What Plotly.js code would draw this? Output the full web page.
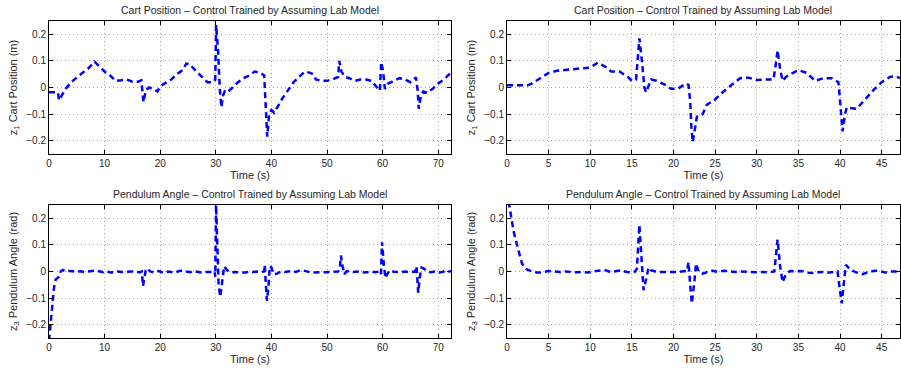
<!DOCTYPE html>
<html>
<head>
<meta charset="utf-8">
<script src="https://cdn.plot.ly/plotly-3.0.1.min.js"></script>
<style>html,body{margin:0;padding:0;background:#fff}#chart{width:901px;height:368px}</style>
</head>
<body>
<div id="chart"></div>
<script>
// ---- data: [time (s), value] ----
const cartRun1 = [[0,-0.018],[1.6,-0.018],[1.8,-0.048],[2.3,-0.03],[3,-0.005],[4,0.02],[5,0.038],[6,0.055],[7,0.07],[8.2,0.097],[9,0.08],[10,0.06],[11,0.045],[12,0.025],[13,0.027],[14,0.03],[15,0.022],[16,0.022],[16.6,0.027],[16.8,-0.01],[17,-0.055],[17.4,-0.01],[18,0.0],[19,-0.008],[19.5,-0.015],[20,0.005],[21,0.018],[22,0.03],[23,0.05],[24,0.065],[24.7,0.09],[25.3,0.088],[26.5,0.06],[27.5,0.04],[28.5,0.02],[29.5,0.02],[29.9,0.03],[30.05,0.235],[30.4,0.14],[30.7,0.0],[31.0,-0.075],[31.3,-0.03],[31.6,-0.015],[32,-0.02],[33,0.0],[34,0.02],[35,0.035],[36,0.045],[37,0.06],[38,0.055],[38.7,0.045],[38.9,-0.05],[39.1,-0.15],[39.25,-0.185],[39.6,-0.1],[40,-0.085],[40.5,-0.095],[41.2,-0.07],[42,-0.04],[43,-0.01],[44,0.02],[45,0.04],[46,0.06],[47,0.055],[47.5,0.05],[48,0.03],[49,0.025],[50,0.025],[51,0.03],[52,0.04],[52.2,0.1],[52.6,0.06],[53.2,0.04],[54,0.035],[55,0.025],[56,0.03],[57,0.03],[58,0.025],[59,0.0],[59.5,-0.012],[59.75,0.095],[60.1,0.06],[60.4,-0.005],[61,0.015],[62,0.025],[63,0.035],[64,0.03],[65,0.02],[66,0.038],[66.3,-0.01],[66.5,-0.08],[66.9,-0.03],[67.3,-0.015],[68,-0.02],[69,-0.005],[70,0.015],[71,0.03],[72.5,0.06]];

const cartRun2 = [[0,0.008],[2.5,0.008],[3,0.015],[4,0.035],[5,0.055],[6,0.063],[8,0.068],[10,0.075],[10.9,0.093],[12,0.075],[12.5,0.06],[13.5,0.06],[14.5,0.04],[15,0.025],[15.5,0.03],[15.75,0.12],[15.9,0.185],[16.2,0.1],[16.5,0.0],[16.7,-0.018],[17,0.01],[17.3,0.03],[18,0.025],[19,0.01],[19.7,-0.005],[20.5,-0.005],[21,0.005],[21.5,0.015],[21.8,0.01],[22,-0.05],[22.15,-0.15],[22.3,-0.205],[22.6,-0.15],[22.8,-0.11],[23.5,-0.1],[24,-0.065],[25,-0.045],[26,-0.015],[27,0.01],[28,0.035],[29,0.037],[30,0.028],[31,0.03],[32,0.03],[32.3,0.09],[32.5,0.14],[32.8,0.07],[33.1,0.025],[33.5,0.04],[34,0.05],[35,0.065],[36,0.055],[37,0.025],[38,0.035],[39,0.035],[39.8,0.02],[40,-0.05],[40.2,-0.13],[40.3,-0.165],[40.6,-0.1],[40.8,-0.075],[42,-0.08],[43,-0.045],[44,-0.01],[45,0.02],[46,0.04],[46.7,0.042],[47.2,0.035]];

const angleRun1 = [[0,-0.26],[0.3,-0.2],[0.6,-0.12],[0.9,-0.06],[1.2,-0.03],[1.6,-0.025],[1.8,-0.02],[2.1,0.0],[2.5,0.006],[3,0.0],[3.6,0.002],[4.3,0.001],[5,-0.001],[5.7,0.001],[6.4,-0.002],[7,0.0],[7.7,0.002],[8.4,0.004],[9,0.001],[9.7,-0.003],[10.4,0.002],[11,-0.004],[11.7,-0.002],[12.4,0.0],[13,-0.002],[13.7,-0.001],[14.4,-0.002],[15,0.0],[15.7,-0.002],[16.4,-0.003],[16.7,0.0],[16.9,-0.055],[17.1,-0.03],[17.4,0.005],[17.7,0.012],[18.2,0.0],[18.8,-0.003],[19.4,0.002],[20,0.0],[20.7,-0.006],[21.4,0.0],[22,-0.002],[22.7,-0.004],[23.4,0.002],[24,0.003],[24.7,0.0],[25.4,-0.003],[26,0.002],[26.7,-0.002],[27.4,-0.004],[28,-0.002],[28.7,-0.003],[29.4,-0.002],[29.8,0.0],[29.9,-0.02],[30.05,0.25],[30.3,0.1],[30.5,-0.05],[30.8,-0.095],[31.1,-0.04],[31.5,0.02],[32,0.005],[32.6,-0.003],[33.3,-0.002],[34,-0.003],[34.7,-0.002],[35.4,-0.004],[36,0.0],[36.7,-0.002],[37.4,0.0],[38,-0.002],[38.7,0.0],[38.8,0.025],[39.0,-0.05],[39.2,-0.11],[39.5,-0.05],[39.7,0.02],[40,0.015],[40.4,-0.01],[41,-0.008],[41.7,0.0],[42.4,-0.002],[43,0.0],[43.7,0.002],[44.4,-0.002],[45,0.003],[45.7,0.004],[46.4,0.0],[47,-0.003],[47.7,-0.004],[48.4,-0.002],[49,-0.003],[49.7,-0.003],[50.4,-0.002],[51,-0.003],[51.7,-0.002],[52,0.0],[52.3,0.01],[52.5,0.06],[52.8,0.02],[53.1,-0.01],[53.5,0.0],[54,0.002],[54.7,-0.002],[55.4,-0.001],[56,0.0],[56.7,-0.004],[57.4,-0.002],[58,0.0],[58.7,-0.003],[59.5,0.0],[59.7,-0.01],[59.9,0.11],[60.2,0.03],[60.5,-0.025],[60.8,-0.01],[61.3,0.005],[62,-0.001],[62.7,-0.002],[63.4,-0.002],[64,0.0],[64.7,-0.002],[65.4,-0.001],[65.9,0.0],[66.1,0.02],[66.4,-0.08],[66.7,-0.02],[67,0.015],[67.5,0.01],[68,0.0],[68.7,-0.003],[69.4,0.0],[70,-0.004],[70.7,-0.002],[71.4,0.003],[72,0.0],[72.5,0.002]];

const angleRun2 = [[0,0.3],[0.2,0.26],[0.5,0.2],[0.8,0.15],[1.2,0.1],[1.5,0.06],[1.8,0.03],[2.2,0.01],[2.6,0.005],[3,0.0],[3.6,-0.004],[4.3,-0.003],[5,0.002],[5.7,0.001],[6.4,-0.002],[7,0.0],[7.7,-0.002],[8.4,-0.003],[9,-0.002],[9.7,-0.004],[10.4,0.0],[11,0.004],[11.7,0.006],[12.4,-0.002],[13,0.002],[13.7,0.004],[14.4,-0.002],[15,-0.004],[15.4,0.0],[15.6,0.01],[15.9,0.175],[16.2,0.05],[16.4,-0.07],[16.7,-0.03],[17,0.015],[17.3,0.005],[17.8,0.0],[18.5,-0.002],[19.2,-0.003],[20,-0.002],[20.7,-0.001],[21.3,0.002],[21.6,0.0],[21.8,0.035],[22.0,-0.05],[22.2,-0.12],[22.5,-0.04],[22.7,0.03],[23,0.0],[23.5,-0.008],[24,-0.003],[24.7,0.003],[25.4,-0.002],[26,0.003],[26.7,0.001],[27.4,-0.002],[28,0.0],[28.7,-0.002],[29.4,-0.002],[30,-0.003],[30.7,-0.002],[31.4,-0.003],[32.1,0.0],[32.5,0.12],[32.8,0.02],[33.1,-0.04],[33.5,-0.01],[34,0.002],[34.7,0.0],[35.4,0.002],[36,-0.004],[36.7,-0.006],[37.4,-0.003],[38,-0.002],[38.7,-0.004],[39.4,-0.002],[39.7,0.0],[39.9,-0.05],[40.2,-0.12],[40.5,-0.03],[40.7,0.025],[41,0.015],[41.5,0.003],[42,-0.004],[42.7,-0.01],[43.4,-0.002],[44,0.002],[44.7,0.003],[45.4,-0.004],[46,0.0],[46.7,0.001],[47.2,0.0]];

const yTickVals = [-0.2, -0.1, 0, 0.1, 0.2];
const yTickText = ['\u22120.2', '\u22120.1', '0', '0.1', '0.2'];
const xTicksLeft = [0, 10, 20, 30, 40, 50, 60, 70];
const xTicksRight = [0, 5, 10, 15, 20, 25, 30, 35, 40, 45];
const titleCart = 'Cart Position \u2013 Control Trained by Assuming Lab Model';
const titleAngle = 'Pendulum Angle \u2013 Control Trained by Assuming Lab Model';
const yLabelCart = 'z<sub>1</sub> Cart Position (m)';
const yLabelAngle = 'z<sub>3</sub> Pendulum Angle (rad)';
const xLabel = 'Time (s)';

const W = 901, H = 368;
const FONT = 'Liberation Sans, Arial, Helvetica, sans-serif';
const lineStyle = {color: '#0000ff', width: 2.5, dash: '6px,4px'};

function trace(pairs, xa, ya) {
  return {x: pairs.map(p => p[0]), y: pairs.map(p => p[1]), xaxis: xa, yaxis: ya,
          type: 'scatter', mode: 'lines', line: lineStyle, hoverinfo: 'skip', showlegend: false};
}

const colL = [49 / W, 451 / W];
const colR = [507 / W, 900 / W];
const rowT = [(H - 154) / H, (H - 21) / H];
const rowB = [(H - 338) / H, (H - 205) / H];

const GRID = {showgrid: true, gridcolor: '#a8a8a8', griddash: '1px,3px', gridwidth: 1};

function xAxis(domain, range, ticks, anchor) {
  return Object.assign({domain: domain, range: range, anchor: anchor, tickvals: ticks, ticktext: ticks.map(String),
    showline: true, linecolor: '#000', linewidth: 1, mirror: 'allticks', ticks: 'inside', ticklen: 4,
    tickcolor: '#000', zeroline: false,
    tickfont: {family: FONT, size: 10, color: '#262626'},
    title: {text: xLabel, font: {family: FONT, size: 11, color: '#262626'}, standoff: 1}}, GRID);
}
function yAxis(domain, label, anchor) {
  return Object.assign({domain: domain, range: [-0.25, 0.25], anchor: anchor, tickvals: yTickVals, ticktext: yTickText,
    showline: true, linecolor: '#000', linewidth: 1, mirror: 'allticks', ticks: 'inside', ticklen: 4,
    tickcolor: '#000', zeroline: false,
    tickfont: {family: FONT, size: 10, color: '#262626'},
    title: {text: label, font: {family: FONT, size: 11, color: '#262626'}, standoff: 6}}, GRID);
}

const data = [
  trace(cartRun1, 'x', 'y'),
  trace(cartRun2, 'x2', 'y2'),
  trace(angleRun1, 'x3', 'y3'),
  trace(angleRun2, 'x4', 'y4')
];

function ttl(text, dom, yPix) {
  return {text: text, xref: 'paper', yref: 'paper', x: (dom[0] + dom[1]) / 2, y: (H - yPix) / H,
          xanchor: 'center', yanchor: 'middle', showarrow: false, font: {family: FONT, size: 10.5, color: '#262626'}};
}

const layout = {
  width: W, height: H, margin: {l: 0, r: 0, t: 0, b: 0}, paper_bgcolor: '#fff', plot_bgcolor: '#fff',
  xaxis: xAxis(colL, [0, 72.3], xTicksLeft, 'y'),
  yaxis: yAxis(rowT, yLabelCart, 'x'),
  xaxis2: xAxis(colR, [0, 47.2], xTicksRight, 'y2'),
  yaxis2: yAxis(rowT, yLabelCart, 'x2'),
  xaxis3: xAxis(colL, [0, 72.3], xTicksLeft, 'y3'),
  yaxis3: yAxis(rowB, yLabelAngle, 'x3'),
  xaxis4: xAxis(colR, [0, 47.2], xTicksRight, 'y4'),
  yaxis4: yAxis(rowB, yLabelAngle, 'x4'),
  annotations: [
    ttl(titleCart, colL, 10), ttl(titleCart, colR, 10),
    ttl(titleAngle, colL, 194), ttl(titleAngle, colR, 194)
  ]
};

Plotly.newPlot('chart', data, layout, {staticPlot: true, displayModeBar: false});
</script>
</body>
</html>
